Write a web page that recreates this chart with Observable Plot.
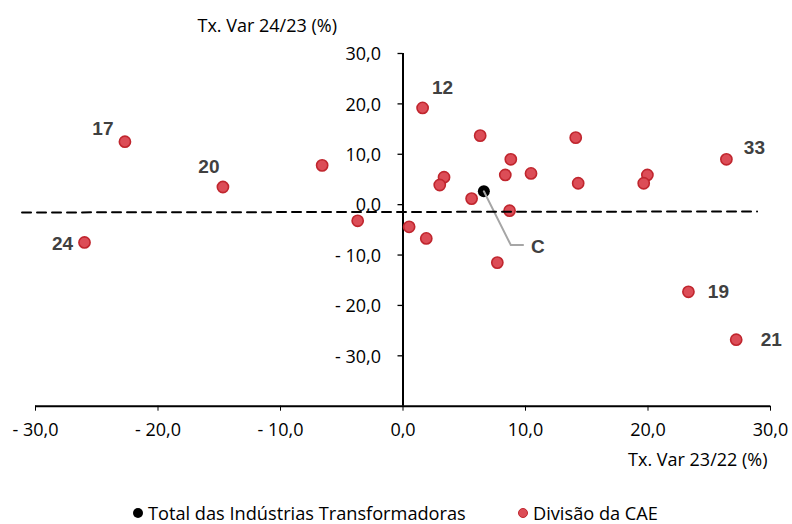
<!DOCTYPE html>
<html>
<head>
<meta charset="utf-8">
<script src="https://cdn.jsdelivr.net/npm/d3@7"></script>
<script src="https://cdn.jsdelivr.net/npm/@observablehq/plot@0.6"></script>
<style>
  html, body { margin: 0; padding: 0; background: #fff; }
  #chart { width: 792px; }
  .legend { position: relative; width: 792px; height: 24px; font-family: "Open Sans", sans-serif; font-size: 18.2px; color: #000; }
  .legend .item { display: flex; align-items: center; position: absolute; top: 2px; white-space: nowrap; line-height: 22px; }
  .legend .sw { width: 10px; height: 10px; border-radius: 50%; margin-right: 5px; box-sizing: border-box; }
</style>
</head>
<body>
<div id="chart"></div>
<script>
// ---- data ----
const divisionX = [-22.7, -14.7, -6.6, -3.7, -26.0, 1.6, 6.3, 14.1, 26.4, 8.8, 8.35, 10.45, 3.35, 3.0, 14.3, 19.95, 19.65, 5.6, 8.7, 0.5, 1.9, 7.7, 23.3, 27.2];
const divisionY = [12.5, 3.5, 7.8, -3.2, -7.5, 19.2, 13.7, 13.3, 9.0, 9.0, 5.9, 6.2, 5.45, 3.9, 4.25, 5.9, 4.25, 1.2, -1.2, -4.4, -6.7, -11.5, -17.3, -26.8];
const divisionLabel = ["17", "20", "", "", "24", "12", "", "", "33", "", "", "", "", "", "", "", "", "", "", "", "", "", "19", "21"];
const totalX = [6.6];
const totalY = [2.65];
const totalLabel = ["C"];
const trendX = [-31.1, 28.9];
const trendY = [-1.55, -1.35];
const leaderX = [6.6, 8.8, 9.8];
const leaderY = [2.65, -8.0, -8.0];
const cLabelX = [11.0];
const cLabelY = [-8.4];
const xTicks = [-30, -20, -10, 0, 10, 20, 30];
const yTicks = [-30, -20, -10, 0, 10, 20, 30];
const xTitle = "Tx. Var 23/22 (%)";
const yTitle = "Tx. Var 24/23 (%)";
const legendLabels = ["Total das Indústrias Transformadoras", "Divisão da CAE"];

// label placement (pixel offsets from point)
const labelOffset = {"12": [20, -20], "17": [-22, -13], "20": [-14, -20], "24": [-22, 1], "33": [28, -11], "19": [30, 0], "21": [35, 0]};

const divisions = divisionX.map((x, i) => ({x, y: divisionY[i], label: divisionLabel[i]}));
const labeled = divisions.filter(d => d.label);
const trend = trendX.map((x, i) => ({x, y: trendY[i]}));
const leader = leaderX.map((x, i) => ({x, y: leaderY[i]}));
const total = totalX.map((x, i) => ({x, y: totalY[i], label: totalLabel[i], lx: cLabelX[i], ly: cLabelY[i]}));

const fmt = v => (v < 0 ? "- " : "") + d3.format(".1f")(Math.abs(v)).replace(".", ",");

const FONT = "'Open Sans', sans-serif";
const BOLD_FONT = "'Liberation Sans', Arial, sans-serif";
const RED_FILL = "#dc4d57";
const RED_STROKE = "#c0262e";
const LABEL_COLOR = "#404040";
const TICK_FS = 18;

const plot = Plot.plot({
  width: 792,
  height: 500,
  marginLeft: 35,
  marginRight: 22,
  marginTop: 53,
  marginBottom: 94.3,
  style: {fontFamily: FONT, fontSize: "18px", color: "#000", background: "#fff"},
  x: {domain: [-30, 30]},
  y: {domain: [-40, 30], axis: null},
  marks: [
    // axes
    Plot.axisX({ticks: xTicks, tickFormat: fmt, tickSize: 5, tickPadding: 12, label: null, fontSize: TICK_FS, stroke: "#000"}),
    Plot.ruleY([-40], {stroke: "#000", strokeWidth: 2}),
    Plot.ruleX([0], {y1: -40, y2: 30, stroke: "#000", strokeWidth: 2}),
    Plot.ruleY(yTicks, {y: d => d, x1: 0, x2: 0, insetLeft: -5, stroke: "#000", strokeWidth: 1.3}),
    Plot.text(yTicks, {x: 0, y: d => d, text: fmt, textAnchor: "end", dx: -22, dy: 1, fontSize: TICK_FS, fill: "#000"}),
    Plot.text([xTitle], {frameAnchor: "bottom-right", dx: -3, dy: 60, textAnchor: "end", fontSize: TICK_FS, fill: "#000"}),
    Plot.text([yTitle], {frameAnchor: "top-left", dx: 162, dy: -34, textAnchor: "start", fontSize: TICK_FS, fill: "#000"}),
    // points
    Plot.dot(divisions, {x: "x", y: "y", r: 5.6, fill: RED_FILL, stroke: RED_STROKE, strokeWidth: 1.6}),
    Plot.dot(total, {x: "x", y: "y", r: 6, fill: "#000"}),
    Plot.line(leader, {x: "x", y: "y", stroke: "#a6a6a6", strokeWidth: 2}),
    Plot.line(trend, {x: "x", y: "y", stroke: "#000", strokeWidth: 2, strokeDasharray: "9,6"}),
    // labels
    ...labeled.map(d => Plot.text([d], {x: "x", y: "y", text: "label", dx: labelOffset[d.label][0], dy: labelOffset[d.label][1], fontSize: 19, fontWeight: "bold", fill: LABEL_COLOR, fontFamily: BOLD_FONT})),
    Plot.text(total, {x: "lx", y: "ly", text: "label", fontSize: 19, fontWeight: "bold", fill: LABEL_COLOR, fontFamily: BOLD_FONT})
  ]
});
document.getElementById("chart").appendChild(plot);

// legend below
const legend = document.createElement("div");
legend.className = "legend";
const colors = ["#000", RED_FILL];
const lefts = [133, 518];
legendLabels.forEach((t, i) => {
  const item = document.createElement("div");
  item.className = "item";
  item.style.left = lefts[i] + "px";
  const sw = document.createElement("span");
  sw.className = "sw";
  sw.style.background = colors[i];
  if (i === 1) sw.style.border = "1.2px solid " + RED_STROKE;
  const tx = document.createElement("span");
  tx.textContent = t;
  item.appendChild(sw);
  item.appendChild(tx);
  legend.appendChild(item);
});
document.body.appendChild(legend);
</script>
</body>
</html>
